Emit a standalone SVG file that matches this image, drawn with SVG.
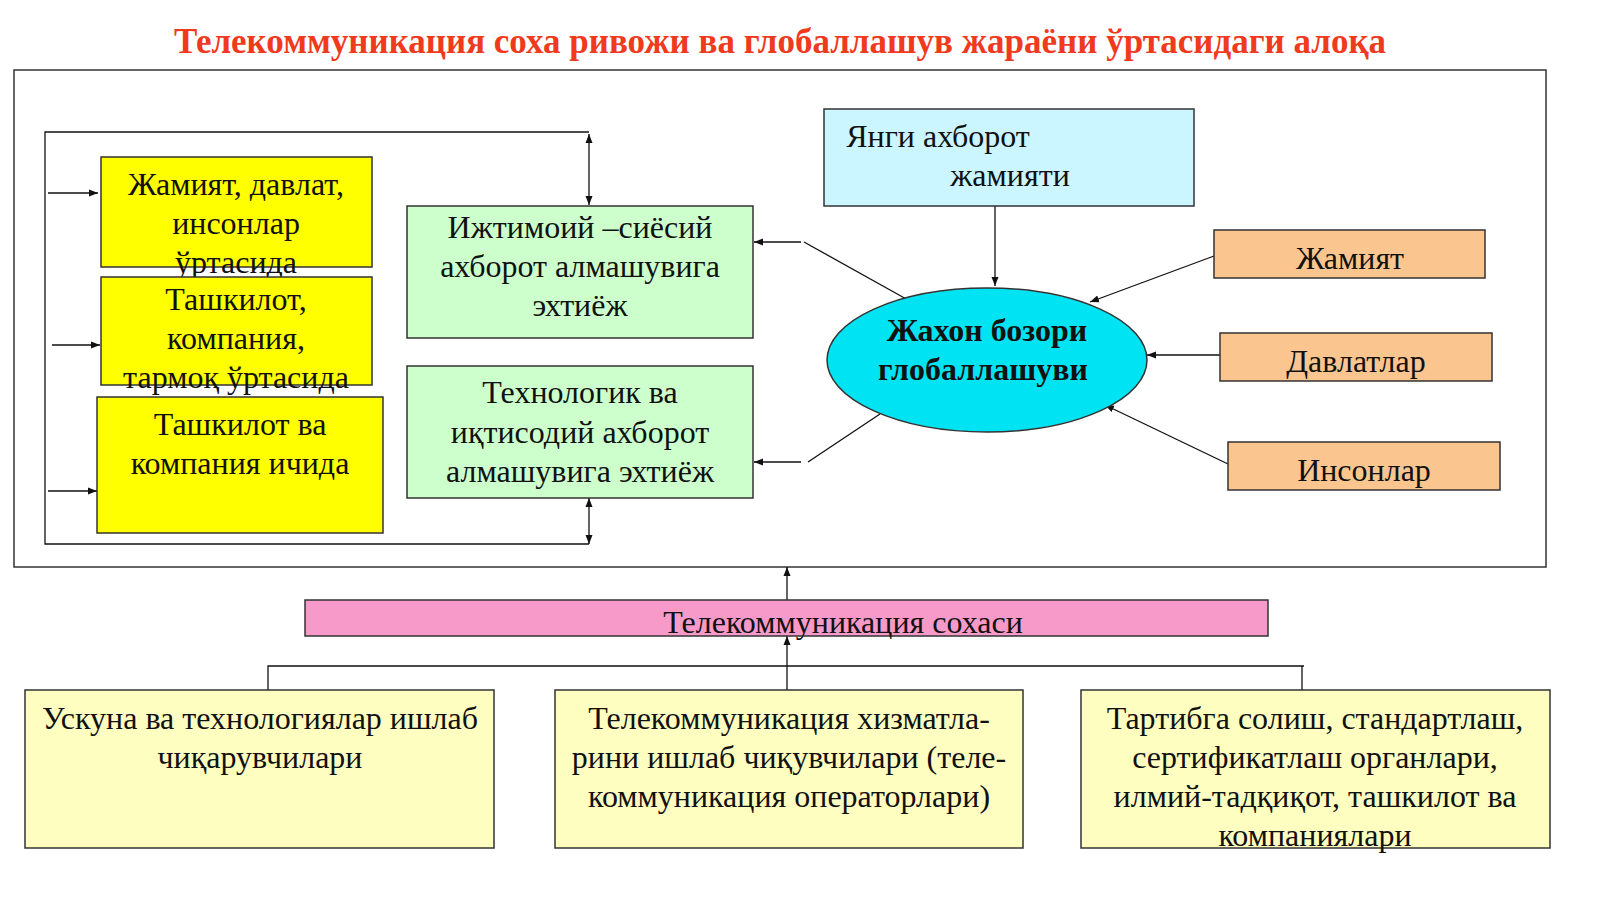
<svg xmlns="http://www.w3.org/2000/svg" width="1600" height="899" viewBox="0 0 1600 899">
<style>
text{font-family:"Liberation Serif","DejaVu Serif",serif;font-size:32px;fill:#111;text-anchor:middle}
.b{stroke:#333;stroke-width:1.5}
.l{stroke:#111;stroke-width:1.3;fill:none}
</style>
<defs><marker id="a" markerWidth="10" markerHeight="10" refX="9" refY="5" orient="auto-start-reverse" markerUnits="userSpaceOnUse"><path d="M0,1.5L9,5L0,8.5z" fill="#111"/></marker></defs>
<rect width="1600" height="899" fill="#fff"/>
<text x="780" y="53" style="fill:#f03a1e;font-weight:bold;font-size:35px">Телекоммуникация соха ривожи ва глобаллашув жараёни ўртасидаги алоқа</text>
<rect x="14" y="70" width="1532" height="497" fill="none" class="b"/>
<g id="connectors">
<path class="l" d="M589,132H45V544H589"/>
<path class="l" d="M589,134V205" marker-start="url(#a)" marker-end="url(#a)"/>
<path class="l" d="M589,498V544" marker-start="url(#a)" marker-end="url(#a)"/>
<path class="l" d="M48,193H98" marker-end="url(#a)"/>
<path class="l" d="M52,345H100" marker-end="url(#a)"/>
<path class="l" d="M48,491H97" marker-end="url(#a)"/>
<path class="l" d="M908,300L804,242"/>
<path class="l" d="M801,242H754" marker-end="url(#a)"/>
<path class="l" d="M880,414L808,462"/>
<path class="l" d="M801,462H754" marker-end="url(#a)"/>
<path class="l" d="M995,206V286" marker-end="url(#a)"/>
<path class="l" d="M1214,256L1090,302" marker-end="url(#a)"/>
<path class="l" d="M1220,355H1147" marker-end="url(#a)"/>
<path class="l" d="M1228,464L1105,405" marker-end="url(#a)"/>
<path class="l" d="M787,600V567" marker-end="url(#a)"/>
<path class="l" d="M787,690V636" marker-end="url(#a)"/>
<path class="l" d="M268,690V666H1304M1302,666V690"/>
</g>
<g id="y1"><rect x="101" y="157" width="271" height="110" fill="#ffff00" class="b"/><text x="236" y="195">Жамият, давлат,</text><text x="236" y="234">инсонлар</text><text x="236" y="273">ўртасида</text></g>
<g id="y2"><rect x="101" y="277" width="271" height="108" fill="#ffff00" class="b"/><text x="236" y="310">Ташкилот,</text><text x="236" y="349">компания,</text><text x="236" y="388">тармоқ ўртасида</text></g>
<g id="y3"><rect x="97" y="397" width="286" height="136" fill="#ffff00" class="b"/><text x="240" y="435">Ташкилот ва</text><text x="240" y="474">компания ичида</text></g>
<g id="g1"><rect x="407" y="206" width="346" height="132" fill="#ccffcc" class="b"/><text x="580" y="238">Ижтимоий –сиёсий</text><text x="580" y="277">ахборот алмашувига</text><text x="580" y="316">эхтиёж</text></g>
<g id="g2"><rect x="407" y="366" width="346" height="132" fill="#ccffcc" class="b"/><text x="580" y="403">Технологик ва</text><text x="580" y="443">иқтисодий ахборот</text><text x="580" y="482">алмашувига эхтиёж</text></g>
<g id="c1"><rect x="824" y="109" width="370" height="97" fill="#ccf6ff" class="b"/><text x="938" y="147">Янги ахборот</text><text x="1010" y="186">жамияти</text></g>
<g id="e"><ellipse cx="987" cy="360" rx="160" ry="72" fill="#00e3f2" class="b"/><text x="987" y="341" style="font-weight:bold">Жахон бозори</text><text x="983" y="380" style="font-weight:bold">глобаллашуви</text></g>
<g id="o1"><rect x="1214" y="230" width="271" height="48" fill="#fbc58f" class="b"/><text x="1350" y="269">Жамият</text></g>
<g id="o2"><rect x="1220" y="333" width="272" height="48" fill="#fbc58f" class="b"/><text x="1356" y="372">Давлатлар</text></g>
<g id="o3"><rect x="1228" y="442" width="272" height="48" fill="#fbc58f" class="b"/><text x="1364" y="481">Инсонлар</text></g>
<g id="p"><rect x="305" y="600" width="963" height="36" fill="#f79ac9" class="b"/><text x="843" y="633">Телекоммуникация сохаси</text></g>
<g id="b1"><rect x="25" y="690" width="469" height="158" fill="#fefec0" class="b"/><text x="260" y="729">Ускуна ва технологиялар ишлаб</text><text x="260" y="768">чиқарувчилари</text></g>
<g id="b2"><rect x="555" y="690" width="468" height="158" fill="#fefec0" class="b"/><text x="789" y="729">Телекоммуникация хизматла-</text><text x="789" y="768">рини ишлаб чиқувчилари (теле-</text><text x="789" y="807">коммуникация операторлари)</text></g>
<g id="b3"><rect x="1081" y="690" width="469" height="158" fill="#fefec0" class="b"/><text x="1315" y="729">Тартибга солиш, стандартлаш,</text><text x="1315" y="768">сертификатлаш органлари,</text><text x="1315" y="807">илмий-тадқиқот, ташкилот ва</text><text x="1315" y="846">компаниялари</text></g>
</svg>
